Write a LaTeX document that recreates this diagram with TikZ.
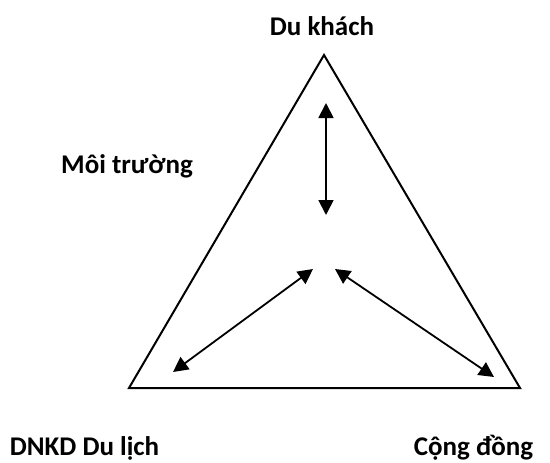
\documentclass[tikz,border=0pt]{standalone}
\usepackage{fontspec}
\setmainfont{Carlito}
\usetikzlibrary{arrows.meta}
\tikzset{
  lbl/.style={font=\fontsize{27}{32}\selectfont\bfseries, anchor=base, inner sep=0pt},
  edge/.style={line width=2pt, line join=miter},
  dbl/.style={line width=1.8pt, {Triangle[length=15pt,width=15pt]}-{Triangle[length=15pt,width=15pt]}}
}
\begin{document}
\begin{tikzpicture}[x=1pt,y=-1pt]
\useasboundingbox (0,0) rectangle (550,463);
\coordinate (A) at (324,55);
\coordinate (B) at (129,388);
\coordinate (C) at (520,388);
\draw[edge] (A) -- (B) -- (C) -- cycle;
\coordinate (v1) at (326,103);
\coordinate (v2) at (326,215);
\coordinate (l1) at (173,372);
\coordinate (l2) at (313,269);
\coordinate (r1) at (335,269);
\coordinate (r2) at (494,377);
\draw[dbl] (v1) -- (v2);
\draw[dbl] (l1) -- (l2);
\draw[dbl] (r1) -- (r2);
\node[lbl] (dk) at (322,35) {Du khách};
\node[lbl] (mt) at (127,173) {Môi trường};
\node[lbl] (dn) at (84.5,455) {DNKD Du lịch};
\node[lbl] (cd) at (473.5,455) {Cộng đồng};
\end{tikzpicture}
\end{document}
